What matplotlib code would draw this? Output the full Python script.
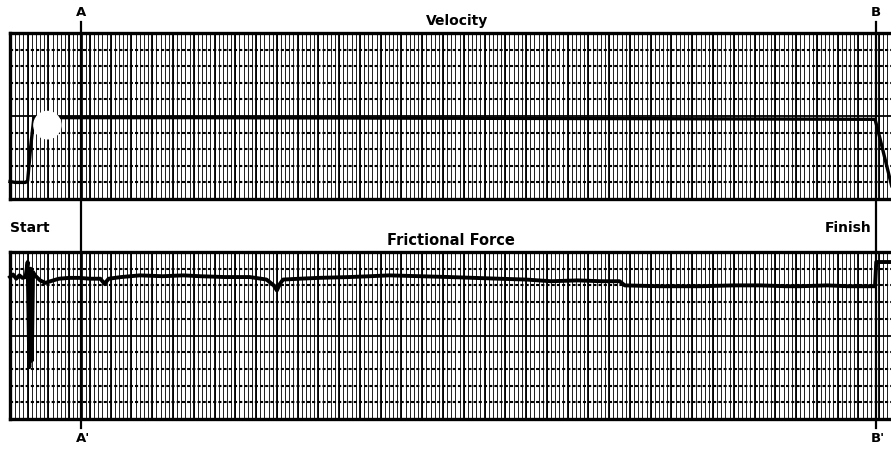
"""Strip-chart record of velocity and frictional force over one sliding run."""
import matplotlib.pyplot as plt
import numpy as np
from matplotlib.patches import Ellipse
from matplotlib.transforms import blended_transform_factory

# chart time, in major paper divisions
vel_t = [-0.85, -0.6, -0.1, 0.0, 0.15, 0.3, 2.0, 8.0, 15.0, 22.0, 30.0, 36.0, 40.8, 40.95, 41.6]
# pen position, in minor chart lines (0 = bottom edge)
vel = [1.05, 1.0, 1.0, 1.1, 3.2, 4.9, 4.9, 4.9, 4.88, 4.86, 4.84, 4.82, 4.8, 4.1, 0.8]

fric_t = [-0.85, -0.7, -0.55, -0.4, -0.25, -0.1, 0.0, 0.08, 0.14, 0.2, 0.26, 0.35,
          0.6, 0.85, 1.1, 1.5, 2.0, 2.5, 3.0, 3.5, 3.7, 3.9, 4.5, 5.4, 6.5, 7.5,
          8.3, 9.5, 10.7, 11.5, 11.85, 12.0, 12.15, 12.3, 13.1, 14.0, 15.5, 16.5,
          17.4, 18.9, 20.3, 21.5, 22.7, 24.0, 25.2, 26.5, 27.6, 28.5, 28.75, 30.4,
          32.4, 34.0, 35.3, 36.5, 37.2, 38.5, 39.5, 40.5, 40.8, 40.86, 41.6]
fric = [8.5, 8.65, 8.4, 8.6, 8.45, 8.5, 9.4, 3.1, 9.0, 3.5, 8.8, 8.6,
        8.3, 8.15, 8.25, 8.4, 8.45, 8.45, 8.4, 8.4, 8.1, 8.4, 8.5, 8.6, 8.55, 8.6,
        8.55, 8.5, 8.5, 8.35, 8.0, 7.7, 8.1, 8.35, 8.4, 8.45, 8.5, 8.55,
        8.6, 8.55, 8.5, 8.45, 8.4, 8.35, 8.25, 8.3, 8.25, 8.25, 8.0, 7.95,
        7.95, 8.0, 8.0, 7.95, 7.95, 8.0, 7.95, 7.95, 7.95, 9.4, 9.4]

mark_names = ["A", "B"]
mark_t = [2.57, 40.84]

T_RANGE = (-0.85, 41.57)


def draw_paper(ax):
    ax.set_xlim(*T_RANGE)
    ax.set_ylim(0, 10)
    minor = np.arange(-0.8, 41.6, 0.2)
    ax.vlines(minor, 0, 10, color="0.12", lw=0.7, zorder=1)
    ax.vlines(np.arange(0, 42), 0, 10, color="black", lw=1.3, zorder=2)
    for y in range(1, 10):
        if y == 5:
            ax.axhline(y, color="black", lw=1.3, zorder=2)
        else:
            ax.axhline(y, color="black", lw=1.5, ls=(0, (1.5, 1.0)), zorder=2)
    ax.set_xticks([])
    ax.set_yticks([])
    for side in ("top", "bottom", "left"):
        ax.spines[side].set_linewidth(2.4)
    ax.spines["right"].set_visible(False)


fig = plt.figure(figsize=(8.91, 4.5), dpi=100)
W, H = 891.0, 450.0

ax_v = fig.add_axes([10 / W, 1 - 199 / H, 881 / W, 166 / H])
ax_f = fig.add_axes([10 / W, 1 - 419 / H, 881 / W, 167 / H])
draw_paper(ax_v)
draw_paper(ax_f)

ax_v.plot(vel_t, vel, color="black", lw=2.4, zorder=4, clip_on=False)
ax_f.plot(fric_t, fric, color="black", lw=2.8, zorder=4, clip_on=False)

# white blot on the paper near the start of the velocity trace
ax_v.add_patch(Ellipse((0.95, 4.45), 1.3, 1.65, color="white", zorder=5))

ax_v.text(0.508, 1.07, "Velocity", transform=ax_v.transAxes, ha="center",
          va="center", fontsize=10, fontweight="bold")
ax_f.text(0.5, 1.07, "Frictional Force", transform=ax_f.transAxes, ha="center",
          va="center", fontsize=10.5, fontweight="bold")
fig.text(10 / W, 1 - 228 / H, "Start", ha="left", va="center",
         fontsize=10, fontweight="bold")
fig.text(872 / W, 1 - 228 / H, "Finish", ha="right", va="center",
         fontsize=10, fontweight="bold")

# A-A' and B-B' markers across both channels
blend = blended_transform_factory(ax_f.transData, fig.transFigure)
for name, t in zip(mark_names, mark_t):
    ax_f.plot([t, t], [1 - 22 / H, 1 - 428 / H], color="black", lw=1.6,
              transform=blend, clip_on=False, zorder=6)
    ax_f.text(t, 1 - 12 / H, name, transform=blend, ha="center", va="center",
              fontsize=9.5, fontweight="bold")
    ax_f.text(t + 0.1, 1 - 438 / H, name + "'", transform=blend, ha="center",
              va="center", fontsize=9.5, fontweight="bold")

fig.savefig("out.png", dpi=100)
